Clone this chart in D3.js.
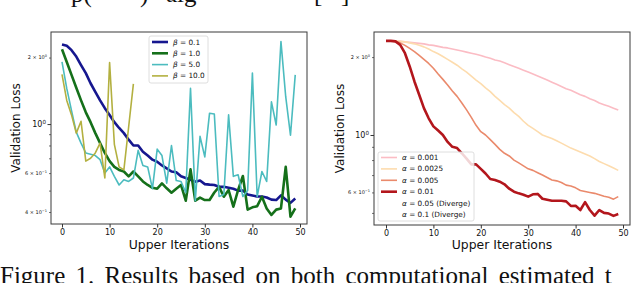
<!DOCTYPE html>
<html><head><meta charset="utf-8">
<script src="https://cdn.jsdelivr.net/npm/d3@7"></script>
<style>
html,body{margin:0;padding:0;background:#fff;}
svg{display:block;font-family:"DejaVu Sans",sans-serif;}
</style></head>
<body>
<svg id="chart" width="640" height="283"></svg>
<script>
// ---------------- DATA ----------------
const iterations = d3.range(0, 50);
const xTicks = [0, 10, 20, 30, 40, 50];

const betaLabels = ["0.1", "1.0", "5.0", "10.0"];
const beta01 = [2.29,2.26,2.16,2.02,1.85,1.70,1.53,1.40,1.28,1.18,1.10,1.02,0.96,0.91,0.85,0.80,0.80,0.75,0.72,0.69,0.675,0.65,0.63,0.61,0.605,0.58,0.57,0.56,0.548,0.555,0.535,0.532,0.53,0.52,0.52,0.515,0.51,0.50,0.50,0.48,0.475,0.47,0.47,0.465,0.455,0.453,0.476,0.455,0.44,0.46];
const beta10 = [2.18,1.91,1.67,1.46,1.28,1.13,1.02,0.91,0.82,0.74,0.68,0.64,0.62,0.61,0.58,0.61,0.58,0.55,0.53,0.515,0.51,0.539,0.512,0.489,0.51,0.53,0.45,0.624,0.45,0.465,0.453,0.453,0.49,0.52,0.469,0.503,0.423,0.503,0.582,0.41,0.42,0.425,0.469,0.415,0.388,0.41,0.415,0.64,0.381,0.415];
const beta50 = [1.91,1.45,1.15,0.92,0.82,0.74,0.73,0.72,0.69,0.60,0.64,0.58,0.53,0.56,0.55,0.57,0.76,0.65,0.64,0.51,0.77,0.72,0.54,0.80,0.555,0.55,0.49,1.45,0.45,0.88,0.71,1.12,1.11,0.47,0.48,1.10,0.58,0.59,0.47,0.50,1.70,0.47,0.61,0.55,1.26,0.99,2.36,1.33,0.89,1.67];
const beta100 = [1.68,1.28,1.10,0.91,1.03,0.68,0.70,0.74,0.82,0.57,1.90,0.81,0.64,0.62,0.97,1.52];

const alphaLabels = ["0.001", "0.0025", "0.005", "0.01", "0.05 (Diverge)", "0.1 (Diverge)"];
const alpha0010 = [2.31,2.31,2.30,2.30,2.29,2.28,2.27,2.26,2.25,2.23,2.22,2.20,2.18,2.17,2.15,2.13,2.11,2.09,2.07,2.05,2.03,2.00,1.98,1.95,1.93,1.90,1.87,1.84,1.81,1.78,1.75,1.72,1.69,1.66,1.63,1.60,1.57,1.54,1.51,1.49,1.46,1.43,1.41,1.38,1.36,1.33,1.31,1.29,1.27,1.25];
const alpha0025 = [2.31,2.31,2.31,2.30,2.29,2.27,2.25,2.22,2.19,2.15,2.10,2.06,2.01,1.96,1.91,1.86,1.80,1.75,1.69,1.63,1.58,1.52,1.47,1.41,1.36,1.31,1.27,1.22,1.18,1.13,1.09,1.06,1.03,1.00,0.985,0.97,0.95,0.93,0.91,0.89,0.875,0.86,0.845,0.83,0.81,0.79,0.775,0.76,0.745,0.73];
const alpha0050 = [2.31,2.31,2.30,2.27,2.22,2.16,2.10,2.03,1.96,1.89,1.81,1.72,1.64,1.56,1.48,1.41,1.33,1.25,1.17,1.09,1.03,1.00,0.96,0.92,0.88,0.85,0.83,0.80,0.78,0.76,0.74,0.73,0.715,0.70,0.685,0.67,0.665,0.655,0.64,0.635,0.625,0.61,0.605,0.60,0.595,0.588,0.58,0.575,0.565,0.578];
const alpha0100 = [2.31,2.31,2.30,2.23,2.07,1.84,1.61,1.43,1.27,1.16,1.08,1.04,1.00,0.94,0.90,0.89,0.85,0.81,0.77,0.77,0.74,0.71,0.676,0.67,0.66,0.645,0.62,0.604,0.595,0.588,0.578,0.59,0.592,0.567,0.562,0.557,0.557,0.557,0.554,0.532,0.533,0.513,0.55,0.513,0.488,0.513,0.50,0.497,0.487,0.495];

const yMinorLeft = [0.4,0.5,0.6,0.7,0.8,0.9,2];
const yMinorRight = [0.5,0.6,0.7,0.8,0.9,2];
const yLabeled = {2: ["2 × 10", "0"], 1: ["10", "0"], 0.6: ["6 × 10", "−1"], 0.4: ["4 × 10", "−1"]};

// ---------------- DRAW ----------------
const svg = d3.select("#chart");

function panel(cfg) {
  const g = svg.append("g");
  const x = d3.scaleLinear().domain([0, 50]).range(cfg.xr);
  const y = d3.scaleLog().domain(cfg.yd).range([cfg.fb, cfg.ft]);
  const clipId = "clip" + cfg.id;
  svg.append("clipPath").attr("id", clipId).append("rect")
    .attr("x", cfg.fl).attr("y", cfg.ft).attr("width", cfg.fr - cfg.fl).attr("height", cfg.fb - cfg.ft);

  const line = d3.line().x((d, i) => x(i)).y(d => y(d));
  const lg = g.append("g").attr("clip-path", `url(#${clipId})`);
  cfg.series.forEach(s => {
    if (!s.values) return;
    lg.append("path").datum(s.values).attr("d", line)
      .attr("fill", "none").attr("stroke", s.color).attr("stroke-width", s.w)
      .attr("stroke-linejoin", "round").attr("stroke-linecap", "butt");
  });

  // frame
  g.append("rect").attr("x", cfg.fl).attr("y", cfg.ft).attr("width", cfg.fr - cfg.fl).attr("height", cfg.fb - cfg.ft)
    .attr("fill", "none").attr("stroke", "#3a3a3a").attr("stroke-width", 1);

  // x axis
  const xa = g.append("g").attr("transform", `translate(0,${cfg.fb})`)
    .call(d3.axisBottom(x).tickValues(xTicks).tickSize(3.5).tickPadding(1.5).tickFormat(d3.format("d")));
  xa.select(".domain").remove();
  xa.selectAll("line").attr("stroke", "#333");
  xa.selectAll("text").attr("font-size", 8).attr("fill", "#111").attr("font-family", "DejaVu Sans");

  // y axis minor
  const ya = g.append("g").attr("transform", `translate(${cfg.fl},0)`)
    .call(d3.axisLeft(y).tickValues(cfg.minor).tickSize(2).tickPadding(2).tickFormat(""));
  ya.select(".domain").remove();
  ya.selectAll("line").attr("stroke", "#333").attr("stroke-width", 0.7);
  const yb = g.append("g").attr("transform", `translate(${cfg.fl},0)`)
    .call(d3.axisLeft(y).tickValues([1]).tickSize(3.5).tickPadding(2).tickFormat(""));
  yb.select(".domain").remove();
  yb.selectAll("line").attr("stroke", "#333");

  // y labels
  Object.keys(yLabeled).forEach(k => {
    const v = +k;
    if (v < cfg.yd[0] || v > cfg.yd[1]) return;
    const major = v === 1;
    const fs = major ? 8 : 5;
    const t = g.append("text").attr("x", cfg.fl - (major ? 5 : 4)).attr("y", y(v))
      .attr("text-anchor", "end").attr("dy", "0.35em").attr("font-size", fs).attr("fill", "#111");
    t.append("tspan").text(yLabeled[k][0]);
    t.append("tspan").attr("dy", -fs * 0.4).attr("font-size", fs * 0.7).text(yLabeled[k][1]);
  });

  // axis titles
  g.append("text").attr("transform", `translate(${cfg.ylx},${(cfg.ft + cfg.fb) / 2}) rotate(-90)`)
    .attr("text-anchor", "middle").attr("font-size", 12).attr("fill", "#111").text("Validation Loss");
  g.append("text").attr("x", (cfg.fl + cfg.fr) / 2).attr("y", 248.5)
    .attr("text-anchor", "middle").attr("font-size", 12.4).attr("fill", "#111").text("Upper Iterations");

  // legend
  const L = cfg.legend;
  const lgd = g.append("g");
  lgd.append("rect").attr("x", L.x).attr("y", L.y).attr("width", L.w).attr("height", L.h)
    .attr("rx", 2).attr("fill", "#fff").attr("fill-opacity", 0.82).attr("stroke", "#d6d6d6").attr("stroke-width", 0.8);
  cfg.series.forEach((s, i) => {
    const yy = L.y0 + i * L.dy;
    if (s.values) {
      lgd.append("line").attr("x1", L.lx).attr("x2", L.lx + 16).attr("y1", yy).attr("y2", yy)
        .attr("stroke", s.color).attr("stroke-width", s.w);
    }
    const t = lgd.append("text").attr("x", L.lx + 21).attr("y", yy).attr("dy", "0.35em")
      .attr("font-size", 7.3).attr("fill", "#111");
    t.append("tspan").attr("font-style", "italic").text(cfg.sym);
    t.append("tspan").text(" = " + s.label);
  });
}

panel({
  id: "L", xr: [62, 300], yd: [0.353, 2.61], fl: 51, fr: 307, ft: 32, fb: 224, ylx: 20,
  minor: yMinorLeft, sym: "β",
  series: [
    {label: betaLabels[0], values: beta01, color: "#16178f", w: 2.6},
    {label: betaLabels[1], values: beta10, color: "#15701a", w: 2.6},
    {label: betaLabels[2], values: beta50, color: "#4cbcbf", w: 1.6},
    {label: betaLabels[3], values: beta100, color: "#b3b040", w: 1.6}
  ],
  legend: {x: 149, y: 36, w: 59, h: 47, y0: 42, dy: 11.3, lx: 152}
});

panel({
  id: "R", xr: [386, 623], yd: [0.449, 2.5], fl: 374, fr: 630, ft: 32, fb: 225, ylx: 344,
  minor: yMinorRight, sym: "α",
  series: [
    {label: alphaLabels[0], values: alpha0010, color: "#fbbcc4", w: 1.6},
    {label: alphaLabels[1], values: alpha0025, color: "#fddcae", w: 1.6},
    {label: alphaLabels[2], values: alpha0050, color: "#ea8a6c", w: 1.6},
    {label: alphaLabels[3], values: alpha0100, color: "#b3161c", w: 2.6},
    {label: alphaLabels[4], values: null},
    {label: alphaLabels[5], values: null}
  ],
  legend: {x: 378, y: 152, w: 96, h: 69, y0: 157.5, dy: 11.4, lx: 381}
});

// surrounding paper text (cut off by the crop)
const cap = svg.append("g").attr("font-family", "Liberation Serif, serif").attr("font-size", 25).attr("fill", "#111");
cap.append("text").attr("x", 71).attr("y", 2).text("p(");
cap.append("text").attr("x", 140).attr("y", 2).text(")");
cap.append("text").attr("x", 166).attr("y", 2).text("alg");
cap.append("text").attr("x", 314).attr("y", 2).text("[");
cap.append("text").attr("x", 341).attr("y", 2).text("]");
cap.append("text").attr("x", 0).attr("y", 284).attr("word-spacing", 4).text("Figure 1. Results based on both computational estimated t");
</script>
</body></html>
